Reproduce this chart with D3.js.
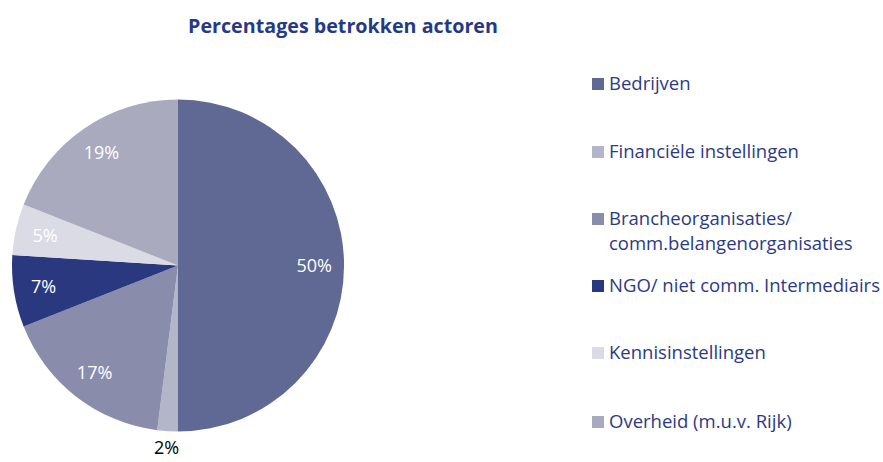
<!DOCTYPE html>
<html>
<head>
<meta charset="utf-8">
<script src="https://cdn.jsdelivr.net/npm/d3@7"></script>
<style>
  body { margin: 0; background: #fff; }
  svg text { font-family: "Open Sans", sans-serif; }
</style>
</head>
<body>
<script>
// chart data
var categories = ["Bedrijven", "Financiële instellingen", "Brancheorganisaties/ comm.belangenorganisaties",
  "NGO/ niet comm. Intermediairs", "Kennisinstellingen", "Overheid (m.u.v. Rijk)"];
var legendLines = [["Bedrijven"], ["Financiële instellingen"], ["Brancheorganisaties/", "comm.belangenorganisaties"],
  ["NGO/ niet comm. Intermediairs"], ["Kennisinstellingen"], ["Overheid (m.u.v. Rijk)"]];
var values = [50, 2, 17, 7, 5, 19];
var colors = ["#606894", "#b3b5c8", "#898dab", "#2a3880", "#dadbe4", "#a9aabd"];

var svgWidth = 883;
var svgHeight = 462;

var svg = d3.select("body")
  .append("svg")
  .attr("width", svgWidth)
  .attr("height", svgHeight);

// title
svg.append("text")
  .attr("x", 343)
  .attr("y", 33)
  .attr("text-anchor", "middle")
  .attr("font-size", 19.7)
  .attr("font-weight", "bold")
  .attr("fill", "#253a85")
  .text("Percentages betrokken actoren");

// pie
var radius = 166;
var pieGroup = svg.append("g")
  .attr("transform", "translate(178, 265.5)");

var pie = d3.pie().sort(null).value(d => d);
var arcs = pie(values);

var arc = d3.arc().innerRadius(0).outerRadius(radius);
var labelArc = d3.arc().innerRadius(radius * 0.82).outerRadius(radius * 0.82);
var outerArc = d3.arc().innerRadius(radius * 1.1).outerRadius(radius * 1.1);

pieGroup.selectAll("path")
  .data(arcs)
  .enter()
  .append("path")
  .attr("d", arc)
  .attr("fill", (d, i) => colors[i]);

pieGroup.selectAll(".lbl")
  .data(arcs)
  .enter()
  .append("text")
  .attr("class", "lbl")
  .attr("transform", d => {
    var c = d.data < 3 ? outerArc.centroid(d) : labelArc.centroid(d);
    return `translate(${c[0]}, ${c[1]})`;
  })
  .attr("text-anchor", "middle")
  .attr("dy", "0.35em")
  .attr("font-size", 18)
  .attr("fill", d => d.data < 3 ? "#000" : "#fff")
  .text(d => d.data + "%");

// legend
var legendY = [90, 158, 225, 292, 359, 428];
var legend = svg.append("g");

legendLines.forEach(function(lines, i) {
  legend.append("rect")
    .attr("x", 592)
    .attr("y", legendY[i] - 12)
    .attr("width", 12)
    .attr("height", 12)
    .attr("fill", colors[i]);
  var t = legend.append("text")
    .attr("x", 609)
    .attr("y", legendY[i])
    .attr("font-size", 18.5)
    .attr("fill", "#2b3a85");
  lines.forEach(function(line, j) {
    t.append("tspan")
      .attr("x", 609)
      .attr("dy", j === 0 ? 0 : 25)
      .text(line);
  });
});
</script>
</body>
</html>
